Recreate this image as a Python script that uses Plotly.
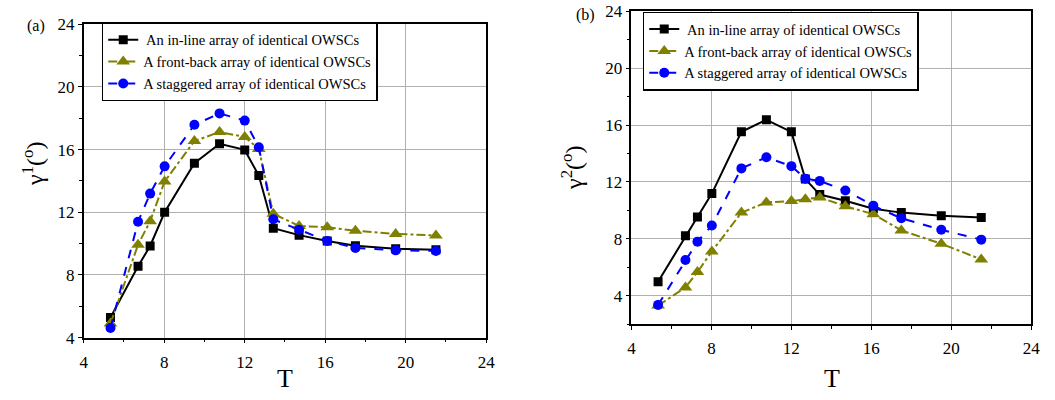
import plotly.graph_objects as go

T = [5.33, 6.7, 7.3, 8.02, 9.5, 10.75, 12.0, 12.7, 13.42, 14.7, 16.1, 17.5, 19.5, 21.5]

names = [" An in-line array of identical OWSCs",
         "A front-back array of identical OWSCs",
         "A staggered array of identical OWSCs"]

# panel (a): gamma^1
a_inline = [5.28, 8.55, 9.85, 12.0, 15.13, 16.37, 15.98, 14.34, 10.98, 10.54, 10.17, 9.87, 9.67, 9.61]
a_front = [4.9, 9.93, 11.43, 13.96, 16.55, 17.12, 16.81, 16.04, 11.9, 11.13, 11.04, 10.82, 10.62, 10.52]
a_stag = [4.61, 11.39, 13.19, 14.93, 17.58, 18.31, 17.85, 16.15, 11.55, 10.88, 10.17, 9.72, 9.57, 9.53]

# panel (b): gamma^2
b_inline = [4.98, 8.21, 9.53, 11.18, 15.52, 16.37, 15.52, 12.2, 11.11, 10.67, 10.11, 9.84, 9.62, 9.5]
b_front = [3.3, 4.58, 5.66, 7.11, 9.84, 10.56, 10.65, 10.78, 10.91, 10.29, 9.73, 8.59, 7.65, 6.55]
b_stag = [3.35, 6.51, 7.8, 8.94, 12.95, 13.73, 13.11, 12.23, 12.07, 11.4, 10.33, 9.44, 8.63, 7.94]

styles = [
    dict(color="black", dash="solid", symbol="square", size=9),
    dict(color="#808000", dash="dashdot", symbol="triangle-up", size=12),
    dict(color="#0000ff", dash="dash", symbol="circle", size=10),
]

FONT = "Liberation Serif"
fig = go.Figure()

for series, xa, ya, leg in [
        ([a_inline, a_front, a_stag], "x", "y", "legend"),
        ([b_inline, b_front, b_stag], "x2", "y2", "legend2")]:
    for s, nm, st in zip(series, names, styles):
        fig.add_trace(go.Scatter(
            x=T, y=s, name=nm, mode="lines+markers",
            line=dict(color=st["color"], dash=st["dash"], width=2),
            marker=dict(symbol=st["symbol"], size=st["size"], color=st["color"]),
            xaxis=xa, yaxis=ya, legend=leg))

axis_common = dict(
    showline=True, linecolor="black", linewidth=1.5, mirror=True,
    ticks="outside", ticklen=4, tickcolor="black", tickwidth=1,
    showgrid=True, gridcolor="#b0b0b0", gridwidth=1,
    zeroline=False,
    tickfont=dict(family=FONT, size=17, color="black"),
    minor=dict(ticks="outside", ticklen=3, dtick=2, tickcolor="black", showgrid=False),
)

fig.update_layout(
    width=1055, height=400,
    margin=dict(l=0, r=0, t=0, b=0),
    paper_bgcolor="white", plot_bgcolor="white",
    font=dict(family=FONT, color="black"),
    xaxis=dict(domain=[0.0765, 0.4628], range=[4, 24], dtick=4, anchor="y",
               ticklabelstandoff=4, **axis_common),
    yaxis=dict(domain=[0.1375, 0.96], range=[4, 24], dtick=4, anchor="x", **axis_common),
    xaxis2=dict(domain=[0.6022, 0.9858], range=[4, 24], dtick=4, anchor="y2",
                ticklabelstandoff=4, **axis_common),
    yaxis2=dict(domain=[0.173, 0.994], range=[2, 24], tick0=0, dtick=4, anchor="x2", **axis_common),
    legend=dict(x=0.0938, y=0.965, xanchor="left", yanchor="top",
                bgcolor="white", bordercolor="black", borderwidth=1.5,
                font=dict(family=FONT, size=14.5, color="black"),
                itemwidth=30, tracegroupgap=0),
    legend2=dict(x=0.613, y=0.993, xanchor="left", yanchor="top",
                 bgcolor="white", bordercolor="black", borderwidth=1.5,
                 font=dict(family=FONT, size=14.5, color="black"),
                 itemwidth=30, tracegroupgap=0),
    showlegend=True,
)

ann = [
    dict(text="T", x=284, y=388, size=26),
    dict(text="T", x=838, y=388, size=26),
    dict(text="γ<sup>1</sup>(<sup>o</sup>)", x=30, y=163, textangle=-90, size=24),
    dict(text="γ<sup>2</sup>(<sup>o</sup>)", x=575, y=167, textangle=-90, size=24),
    dict(text="(a)", x=32, y=18, size=16),
    dict(text="(b)", x=589, y=6, size=16),
]
for a in ann:
    fig.add_annotation(text=a["text"], x=a["x"] / 1055, y=1 - a["y"] / 400,
                       xref="paper", yref="paper", showarrow=False,
                       xanchor="center", yanchor="middle",
                       textangle=a.get("textangle", 0),
                       font=dict(family=FONT, color="black", size=a["size"]))

fig.write_html("out.html")
